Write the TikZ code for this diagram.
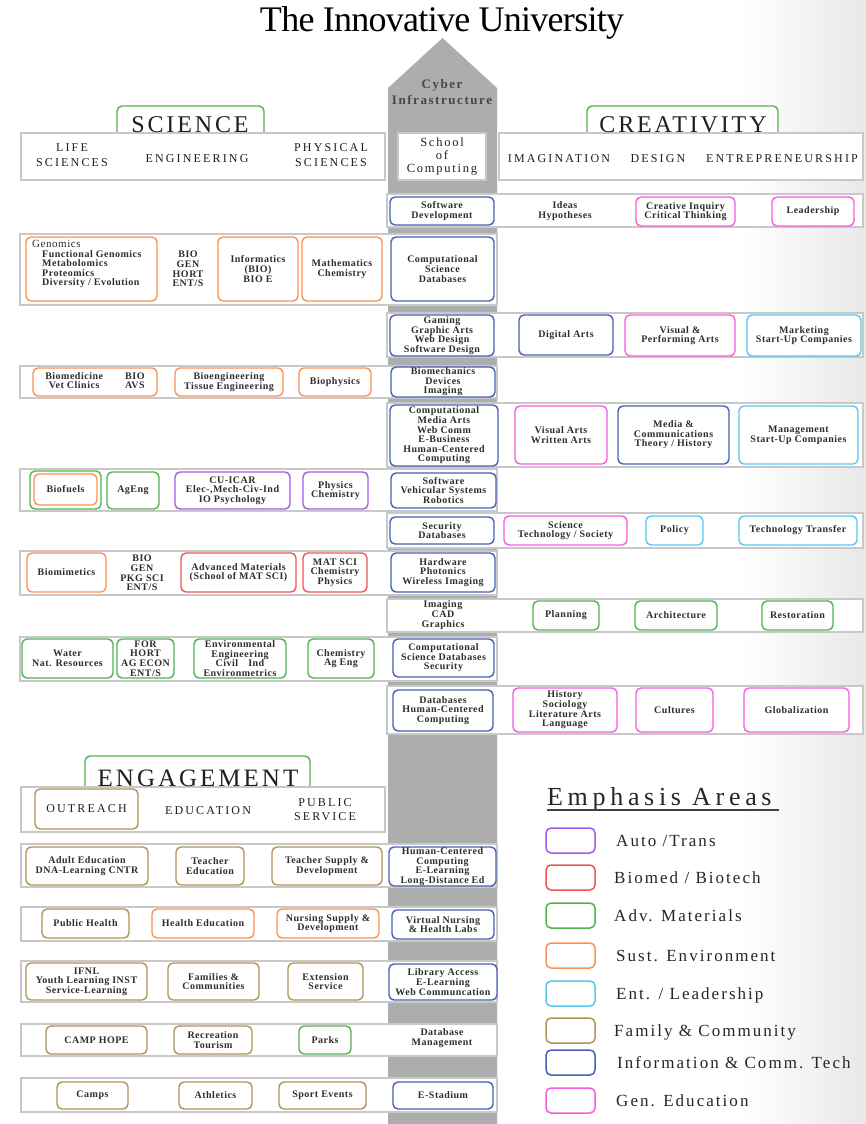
\documentclass[tikz,border=0pt]{standalone}
\usepackage{fontspec}
\setmainfont{Liberation Serif}
\newfontfamily\titlefont[LetterSpace=-2]{Liberation Serif}
\newfontfamily\boxfont[LetterSpace=5]{Liberation Serif}
\newfontfamily\hdrfont[LetterSpace=18]{Liberation Serif}
\newfontfamily\socfont[LetterSpace=14]{Liberation Serif}
\newfontfamily\catfont[LetterSpace=12]{Liberation Serif}
\newfontfamily\legfont[LetterSpace=12]{Liberation Serif}
\newfontfamily\empfont[LetterSpace=18]{Liberation Serif}
\newfontfamily\cyberfont[LetterSpace=12]{Liberation Serif}
\definecolor{cpurple}{RGB}{168,85,240}
\definecolor{cred}{RGB}{240,85,85}
\definecolor{cgreen}{RGB}{80,180,80}
\definecolor{corange}{RGB}{250,145,85}
\definecolor{ccyan}{RGB}{85,200,240}
\definecolor{cgold}{RGB}{175,150,85}
\definecolor{cblue}{RGB}{75,95,180}
\definecolor{cpink}{RGB}{250,90,225}
\definecolor{colgray}{RGB}{173,173,173}
\definecolor{rowgray}{RGB}{200,200,200}
\newcommand\bx[7]{%
  \pgfmathsetmacro\bxw{#5-(#3)}%
  \pgfmathsetmacro\bxh{#6-(#4)}%
  \pgfmathsetmacro\bxx{(#3+#5)/2}%
  \pgfmathsetmacro\bxy{(#4+#6)/2}%
  \node[#1, minimum width=\bxw pt, minimum height=\bxh pt] (#2) at (\bxx,\bxy) {#7};}
\tikzset{
  row/.style={draw=rowgray, line width=1.4pt, fill=white, inner sep=0pt},
  item/.style={draw, rounded corners=5pt, line width=1.4pt, fill=white, inner sep=0pt,
    align=center, text=black!82, font=\boxfont\bfseries\fontsize{10}{9.6}\selectfont},
  plain/.style={inner sep=0pt, align=center, text=black!82, font=\boxfont\bfseries\fontsize{10}{9.6}\selectfont},
  lab/.style={draw=cgreen, rounded corners=5pt, line width=1.4pt, fill=white, inner sep=0pt},
  cat/.style={inner sep=0pt, anchor=base, text=black!88, font=\catfont\fontsize{24}{24}\selectfont},
  hdr/.style={inner sep=0pt, align=center, text=black!88, font=\hdrfont\fontsize{12}{15}\selectfont},
  lbox/.style={draw, rounded corners=5pt, line width=1.5pt, fill=white, inner sep=0pt},
  legtext/.style={inner sep=0pt, anchor=base west, text=black!85, font=\legfont\fontsize{17}{17}\selectfont},
}
\begin{document}
\begin{tikzpicture}[x=1pt,y=-1pt]
\useasboundingbox (0,0) rectangle (866,1124);
\fill[white] (0,0) rectangle (866,1124);
\shade[left color=white, right color=black!9] (740,0) rectangle (866,1124);
% cyber infrastructure column
\fill[colgray] (388,1124) -- (388,88) -- (442.5,38) -- (497,88) -- (497,1124) -- cycle;
\node[inner sep=0pt, anchor=base, font=\titlefont\fontsize{36}{36}\selectfont] (title) at (442,32) {The Innovative University};
\node[inner sep=0pt, align=center, text=black!72, font=\cyberfont\bfseries\fontsize{13}{15.5}\selectfont] (cyber) at (442,92) {Cyber\\Infrastructure};
% category labels
\bx{lab}{scibox}{117}{106}{264}{150}{}
\bx{lab}{crebox}{587}{106}{778}{150}{}
\bx{row}{hdrL}{21}{133}{385}{180}{}
\bx{row}{hdrR}{499}{133}{863}{180}{}
\bx{row}{soc}{398}{133}{486}{180}{}
\node[cat] (scit) at (190,132) {SCIENCE};
\node[cat] (cret) at (683,132) {CREATIVITY};
\node[hdr] (life) at (72,155.5) {LIFE\\SCIENCES};
\node[hdr] (engi) at (197,158.5) {ENGINEERING};
\node[hdr] (phys) at (331,155.5) {PHYSICAL\\SCIENCES};
\node[hdr, font=\socfont\fontsize{12.5}{13}\selectfont] (soct) at (442,156.5) {School\\of\\Computing};
\node[hdr] (imag) at (559,158.5) {IMAGINATION};
\node[hdr] (desi) at (658,158.5) {DESIGN};
\node[hdr] (entr) at (782,158.5) {ENTREPRENEURSHIP};
% R1
\bx{row}{r1}{387}{194}{863}{227}{}
\bx{item,draw=cblue}{sd}{390}{197}{494}{225}{Software\\Development}
\node[plain] (ideas) at (565,211) {Ideas\\Hypotheses};
\bx{item,draw=cpink}{cic}{636}{197}{735}{226}{Creative Inquiry\\Critical Thinking}
\bx{item,draw=cpink}{lead}{772}{197}{854}{226}{Leadership}
% L1
\bx{row}{l1}{20}{234}{497}{305}{}
\bx{item,draw=corange}{gen}{26}{237}{157}{301}{}
\node[plain, align=left, anchor=north west] (gent) at (32,240) {{\mdseries\fontsize{11}{9.7}\selectfont Genomics}\\\hspace*{10pt}Functional Genomics\\\hspace*{10pt}Metabolomics\\\hspace*{10pt}Proteomics\\\hspace*{10pt}Diversity / Evolution};
\node[plain] (bio1) at (188,269) {BIO\\GEN\\HORT\\ENT/S};
\bx{item,draw=corange}{info}{218}{237}{298}{301}{Informatics\\(BIO)\\BIO E}
\bx{item,draw=corange}{math}{302}{237}{382}{301}{Mathematics\\Chemistry}
\bx{item,draw=cblue}{csd}{391}{237}{494}{301}{Computational\\Science\\Databases}
% R2
\bx{row}{r2}{387}{313}{863}{357}{}
\bx{item,draw=cblue}{gam}{390}{315}{494}{356}{Gaming\\Graphic Arts\\Web Design\\Software Design}
\bx{item,draw=cblue}{dig}{519}{315}{613}{355}{Digital Arts}
\bx{item,draw=cpink}{vpa}{625}{315}{735}{356}{Visual \&\\Performing Arts}
\bx{item,draw=ccyan}{mkt}{747}{315}{861}{356}{Marketing\\Start-Up Companies}
% L2
\bx{row}{l2}{20}{366}{497}{398}{}
\bx{item,draw=corange}{biomed}{33}{368}{157}{396}{\begin{tabular}{@{}c@{\hspace{22pt}}c@{}}Biomedicine&BIO\\Vet Clinics&AVS\end{tabular}}
\bx{item,draw=corange}{bioeng}{175}{368}{283}{396}{Bioengineering\\Tissue Engineering}
\bx{item,draw=corange}{biophys}{299}{368}{371}{396}{Biophysics}
\bx{item,draw=cblue}{biomech}{391}{367}{495}{397}{Biomechanics\\Devices\\Imaging}
% R3
\bx{row}{r3}{387}{403}{863}{467}{}
\bx{item,draw=cblue}{cma}{390}{405}{498}{466}{Computational\\Media Arts\\Web Comm\\E-Business\\Human-Centered\\Computing}
\bx{item,draw=cpink}{vawa}{515}{406}{607}{464}{Visual Arts\\Written Arts}
\bx{item,draw=cblue}{media}{618}{406}{729}{464}{Media \&\\Communications\\Theory / History}
\bx{item,draw=ccyan}{mgmt}{739}{406}{858}{464}{Management\\Start-Up Companies}
% L3
\bx{row}{l3}{20}{469}{497}{511}{}
\bx{item,draw=cgreen}{biofo}{30}{471}{101}{509}{}
\bx{item,draw=corange}{biof}{34}{474}{97}{505}{Biofuels}
\bx{item,draw=cgreen}{ageng}{107}{472}{159}{509}{AgEng}
\bx{item,draw=cpurple}{cuicar}{175}{472}{290}{509}{CU-ICAR\\Elec-,Mech-Civ-Ind\\IO Psychology}
\bx{item,draw=cpurple}{physchem}{303}{472}{368}{509}{Physics\\Chemistry}
\bx{item,draw=cblue}{svs}{391}{473}{496}{508}{Software\\Vehicular Systems\\Robotics}
% R4
\bx{row}{r4}{387}{513}{863}{548}{}
\bx{item,draw=cblue}{secdb}{390}{517}{494}{544}{Security\\Databases}
\bx{item,draw=cpink}{sts}{504}{516}{627}{545}{Science\\Technology / Society}
\bx{item,draw=ccyan}{policy}{646}{516}{703}{545}{Policy}
\bx{item,draw=ccyan}{tt}{739}{516}{857}{545}{Technology Transfer}
% L4
\bx{row}{l4}{20}{551}{497}{595}{}
\bx{item,draw=corange}{biomim}{27}{553}{106}{592}{Biomimetics}
\node[plain] (bio2) at (142,573) {BIO\\GEN\\PKG SCI\\ENT/S};
\bx{item,draw=cred}{advmat}{181}{553}{296}{592}{Advanced Materials\\(School of MAT SCI)}
\bx{item,draw=cred}{matsci}{303}{553}{367}{592}{MAT SCI\\Chemistry\\Physics}
\bx{item,draw=cblue}{hw}{391}{553}{495}{592}{Hardware\\Photonics\\Wireless Imaging}
% R5
\bx{row}{r5}{387}{599}{863}{632}{}
\node[plain] (cad) at (443,615) {Imaging\\CAD\\Graphics};
\bx{item,draw=cgreen}{plan}{533}{601}{599}{630}{Planning}
\bx{item,draw=cgreen}{arch}{635}{601}{717}{630}{Architecture}
\bx{item,draw=cgreen}{rest}{762}{601}{833}{630}{Restoration}
% L5
\bx{row}{l5}{20}{637}{497}{681}{}
\bx{item,draw=cgreen}{water}{22}{639}{113}{678}{Water\\Nat. Resources}
\bx{item,draw=cgreen}{forh}{117}{639}{174}{678}{FOR\\HORT\\AG ECON\\ENT/S}
\bx{item,draw=cgreen}{env}{194}{639}{286}{678}{Environmental\\Engineering\\Civil\hspace{10pt}Ind\\Environmetrics}
\bx{item,draw=cgreen}{chemag}{308}{639}{374}{678}{Chemistry\\Ag Eng}
\bx{item,draw=cblue}{csds}{393}{639}{494}{677}{Computational\\Science Databases\\Security}
% R6
\bx{row}{r6}{387}{686}{863}{734}{}
\bx{item,draw=cblue}{dbhc}{393}{690}{493}{731}{Databases\\Human-Centered\\Computing}
\bx{item,draw=cpink}{hist}{513}{688}{617}{732}{History\\Sociology\\Literature Arts\\Language}
\bx{item,draw=cpink}{cult}{636}{688}{713}{732}{Cultures}
\bx{item,draw=cpink}{glob}{744}{688}{849}{732}{Globalization}
% ENGAGEMENT
\bx{lab}{engbox}{85}{756}{310}{800}{}
\bx{row}{hdrE}{21}{787}{385}{832}{}
\node[cat, font=\catfont\fontsize{25}{25}\selectfont] (engt) at (198,786) {ENGAGEMENT};
\bx{item,draw=cgold,font=\hdrfont\fontsize{12}{15}\selectfont,text=black!88}{outr}{35}{789}{138}{829}{OUTREACH}
\node[hdr] (educ) at (208,811) {EDUCATION};
\node[hdr, font=\hdrfont\fontsize{12}{14}\selectfont] (pubs) at (325,810) {PUBLIC\\SERVICE};
% E1
\bx{row}{e1}{21}{844}{497}{887}{}
\bx{item,draw=cgold}{adult}{26}{847}{148}{885}{Adult Education\\DNA-Learning CNTR}
\bx{item,draw=cgold}{teach}{176}{847}{244}{885}{Teacher\\Education}
\bx{item,draw=cgold}{tsd}{272}{847}{382}{885}{Teacher Supply \&\\Development}
\bx{item,draw=cblue}{hcc}{389}{847}{496}{886}{Human-Centered\\Computing\\E-Learning\\Long-Distance Ed}
% E2
\bx{row}{e2}{21}{907}{497}{941}{}
\bx{item,draw=cgold}{pubh}{42}{909}{129}{938}{Public Health}
\bx{item,draw=corange}{hedu}{152}{909}{254}{938}{Health Education}
\bx{item,draw=corange}{nsd}{277}{909}{379}{938}{Nursing Supply \&\\Development}
\bx{item,draw=cblue}{vn}{392}{910}{494}{939}{Virtual Nursing\\\& Health Labs}
% E3
\bx{row}{e3}{21}{961}{497}{1002}{}
\bx{item,draw=cgold}{ifnl}{26}{963}{147}{1000}{IFNL\\Youth Learning INST\\Service-Learning}
\bx{item,draw=cgold}{fam}{168}{963}{259}{1000}{Families \&\\Communities}
\bx{item,draw=cgold}{ext}{288}{963}{363}{1000}{Extension\\Service}
\bx{item,draw=cblue}{lib}{389}{964}{497}{1000}{Library Access\\E-Learning\\Web Communcation}
% E4
\bx{row}{e4}{21}{1024}{497}{1056}{}
\bx{item,draw=cgold}{camph}{46}{1026}{147}{1054}{CAMP HOPE}
\bx{item,draw=cgold}{recr}{174}{1026}{252}{1054}{Recreation\\Tourism}
\bx{item,draw=cgreen}{parks}{299}{1026}{351}{1054}{Parks}
\node[plain] (dbm) at (442,1038) {Database\\Management};
% E5
\bx{row}{e5}{21}{1078}{497}{1112}{}
\bx{item,draw=cgold}{camps}{57}{1082}{128}{1109}{Camps}
\bx{item,draw=cgold}{athl}{179}{1082}{252}{1109}{Athletics}
\bx{item,draw=cgold}{sport}{279}{1082}{366}{1109}{Sport Events}
\bx{item,draw=cblue}{estad}{393}{1082}{493}{1109}{E-Stadium}
% legend
\node[inner sep=0pt, anchor=base west, text=black!85, font=\empfont\fontsize{26}{26}\selectfont] (emph) at (547,805) {Emphasis Areas};
\coordinate (ulA) at (547,810);
\coordinate (ulB) at (779,810);
\draw[black!75, line width=1.1pt] (ulA) -- (ulB);
\bx{lbox,draw=cpurple}{lg1}{546}{828}{595}{853}{}
\bx{lbox,draw=cred}{lg2}{546}{865}{595}{890}{}
\bx{lbox,draw=cgreen}{lg3}{546}{903}{595}{928}{}
\bx{lbox,draw=corange}{lg4}{546}{943}{595}{968}{}
\bx{lbox,draw=ccyan}{lg5}{546}{981}{595}{1006}{}
\bx{lbox,draw=cgold}{lg6}{546}{1018}{595}{1043}{}
\bx{lbox,draw=cblue}{lg7}{546}{1050}{595}{1075}{}
\bx{lbox,draw=cpink}{lg8}{546}{1088}{595}{1113}{}
\node[legtext] (lt1) at (616,846) {Auto /Trans};
\node[legtext] (lt2) at (614,883) {Biomed / Biotech};
\node[legtext] (lt3) at (614,921) {Adv. Materials};
\node[legtext] (lt4) at (616,961) {Sust. Environment};
\node[legtext] (lt5) at (616,999) {Ent. / Leadership};
\node[legtext] (lt6) at (614,1036) {Family \& Community};
\node[legtext] (lt7) at (617,1068) {Information \& Comm. Tech};
\node[legtext] (lt8) at (616,1106) {Gen. Education};
\end{tikzpicture}
\end{document}
